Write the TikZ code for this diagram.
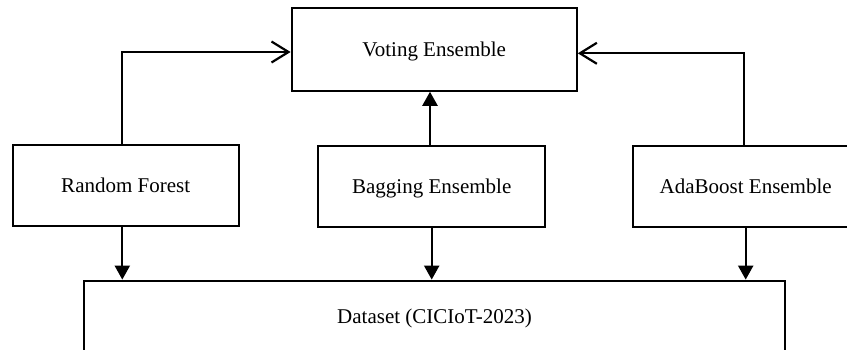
\documentclass[tikz,border=0pt]{standalone}
\usepackage{fontspec}
\setmainfont{Liberation Serif}
\usetikzlibrary{arrows.meta}
\begin{document}
\begin{tikzpicture}[x=1pt,y=1pt,
  box/.style={draw,line width=2.2pt,inner sep=0pt,text height=14pt,text depth=0pt,font=\fontsize{21}{25}\selectfont},
  conn/.style={line width=2.2pt},
  openarr/.style={conn,-{Straight Barb[length=17pt,width=21pt,line width=2.2pt]}},
  triarr/.style={conn,-{Triangle[length=14pt,width=15pt]}}]
\useasboundingbox (0,0) rectangle (847,-349);
\clip (0,0) rectangle (847,-349);
\node[box,minimum width=285pt,minimum height=82.7pt] (vote) at (434.2,-49.3) {Voting Ensemble};
\node[box,minimum width=226pt,minimum height=80.8pt] (rf) at (125.7,-185.5) {Random Forest};
\node[box,minimum width=226.7pt,minimum height=80.7pt] (bag) at (431.7,-186.3) {Bagging Ensemble};
\node[box,minimum width=226pt,minimum height=80.7pt] (ada) at (745.7,-186.3) {AdaBoost Ensemble};
\node[box,minimum width=701pt,minimum height=72pt] (data) at (434.5,-316.7) {Dataset (CICIoT-2023)};
\draw[openarr] ([xshift=-3.4pt]rf.north) |- ([yshift=-2.7pt]vote.west);
\draw[openarr] ([xshift=-1.7pt]ada.north) |- ([yshift=-4pt]vote.east);
\draw[triarr] ([xshift=-1.7pt]bag.north) -- ([xshift=-1.7pt]bag.north |- vote.south);
\draw[triarr] ([xshift=-3.4pt]rf.south) -- ([xshift=-3.4pt]rf.south |- data.north);
\draw[triarr] (bag.south) -- (bag.south |- data.north);
\draw[triarr] (ada.south) -- (ada.south |- data.north);
\end{tikzpicture}
\end{document}
